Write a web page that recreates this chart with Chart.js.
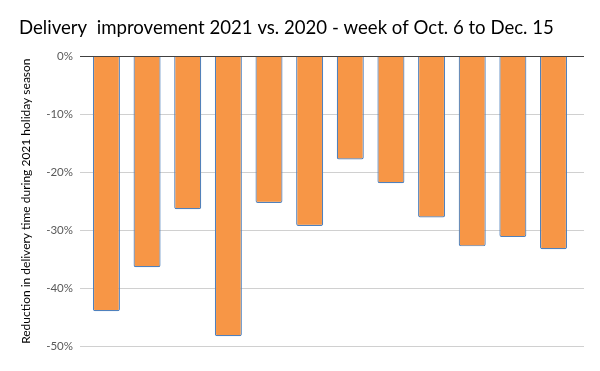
<!DOCTYPE html>
<html><head><meta charset="utf-8">
<script src="https://cdn.jsdelivr.net/npm/chart.js@4/dist/chart.umd.min.js"></script>
<style>html,body{margin:0;padding:0;background:#fff}#w{width:600px;height:371px}</style>
</head><body><div id="w"><canvas id="c"></canvas></div>
<script>
const categories = ["Week 1","Week 2","Week 3","Week 4","Week 5","Week 6","Week 7","Week 8","Week 9","Week 10","Week 11","Week 12"];
const reduction = [-44.0, -36.4, -26.4, -48.3, -25.3, -29.3, -17.8, -21.9, -27.8, -32.8, -31.2, -33.3];
const yTicks = [0, -10, -20, -30, -40, -50];

const points = reduction.map((v, i) => ({x: i, y: v}));
new Chart(document.getElementById('c'), {
  type: 'bar',
  data: { datasets: [{
    label: 'Reduction',
    data: points,
    backgroundColor: '#F79646',
    borderColor: '#4F81BD',
    borderWidth: 1.2,
    borderRadius: 2,
    borderSkipped: 'start',
    categoryPercentage: 1,
    barPercentage: 0.665
  }]},
  options: {
    responsive: true, maintainAspectRatio: false, animation: false,
    layout: { padding: { left: 19, right: 16, bottom: 25, top: 0 } },
    plugins: {
      legend: { display: false }, tooltip: { enabled: false },
      title: { display: true, text: 'Delivery  improvement 2021 vs. 2020 - week of Oct. 6 to Dec. 15',
        align: 'start', color: '#000', font: { family: 'Lato', size: 18.6, weight: 'normal' },
        padding: { top: 17, bottom: 17 } }
    },
    scales: {
      x: { type: 'linear', display: false, min: -0.65, max: 11.75, offset: false,
           ticks: { callback: (v) => categories[v] } },
      y: { min: -50, max: 0,
        afterBuildTicks: (s) => { s.ticks = yTicks.map(v => ({value: v})); },
        afterFit: (s) => { s.width = 61; },
        border: { display: false },
        grid: { drawTicks: false, color: (ctx) => ctx.tick && ctx.tick.value === 0 ? '#404040' : '#D0D0D0', lineWidth: 1 },
        ticks: { padding: 7, color: '#595959', font: { family: 'Lato', size: 11.5 }, callback: (v) => v + '%' },
        title: { display: true, text: 'Reduction in delivery time during 2021 holiday season',
          color: '#000', font: { family: 'Lato', size: 12 }, padding: { top: 0, bottom: 0 } }
      }
    }
  }
});
</script></body></html>
